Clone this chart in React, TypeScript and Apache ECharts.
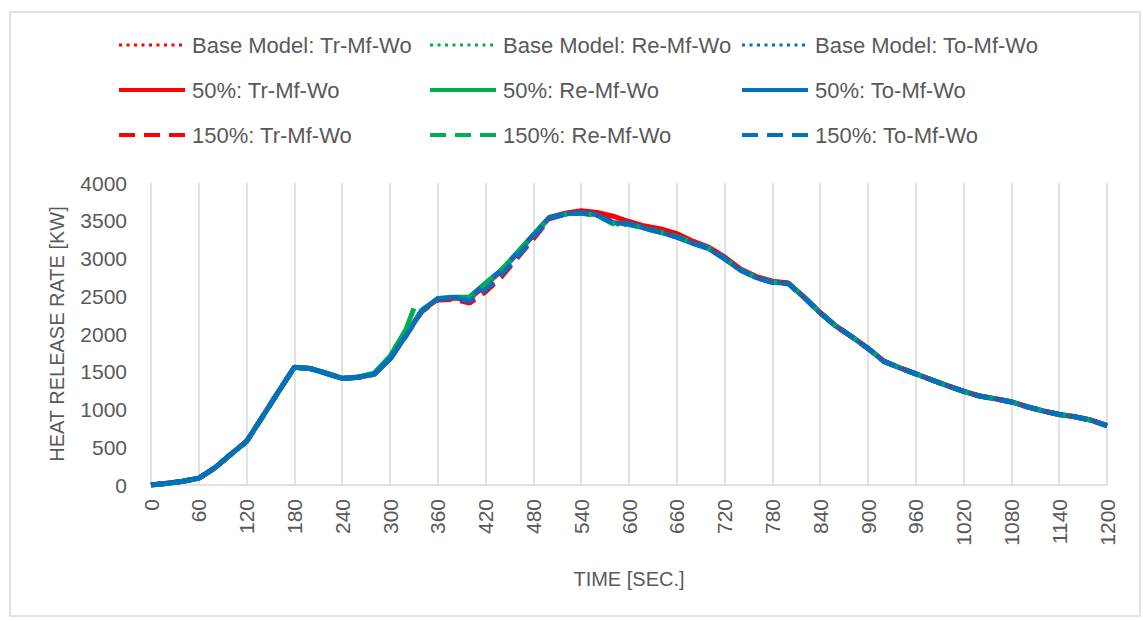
import React, { useEffect, useRef } from "react";
import * as echarts from "echarts";

const times = [0, 20, 40, 60, 80, 100, 120, 140, 160, 180, 200, 220, 240, 260, 280, 300, 320, 340, 360, 380, 400, 420, 440, 460, 480, 500, 520, 540, 560, 580, 600, 620, 640, 660, 680, 700, 720, 740, 760, 780, 800, 820, 840, 860, 880, 900, 920, 940, 960, 980, 1000, 1020, 1040, 1060, 1080, 1100, 1120, 1140, 1160, 1180, 1200];
const timesShort = [0, 20, 40, 60, 80, 100, 120, 140, 160, 180, 200, 220, 240, 260, 280, 300, 320, 330];

const baseTr = [0, 20, 48, 92, 228, 402, 580, 900, 1232, 1558, 1540, 1482, 1415, 1424, 1470, 1675, 1990, 2315, 2460, 2470, 2455, 2640, 2835, 3070, 3310, 3545, 3595, 3615, 3590, 3480, 3470, 3410, 3355, 3290, 3215, 3140, 3005, 2850, 2750, 2690, 2672, 2480, 2278, 2100, 1958, 1810, 1635, 1548, 1470, 1390, 1312, 1238, 1176, 1140, 1098, 1033, 978, 932, 902, 856, 783];
const baseRe = [0, 21, 49, 91, 226, 404, 579, 903, 1236, 1561, 1541, 1478, 1414, 1428, 1480, 1690, 2000, 2330, 2465, 2482, 2480, 2660, 2845, 3075, 3312, 3538, 3585, 3595, 3560, 3450, 3440, 3405, 3352, 3298, 3225, 3150, 3010, 2858, 2752, 2692, 2675, 2485, 2282, 2103, 1962, 1810, 1638, 1551, 1473, 1392, 1314, 1241, 1179, 1142, 1101, 1036, 981, 934, 904, 859, 786];
const baseTo = [0, 22, 51, 90, 224, 406, 577, 906, 1234, 1559, 1542, 1481, 1413, 1425, 1467, 1668, 1978, 2308, 2468, 2486, 2488, 2670, 2852, 3082, 3318, 3542, 3588, 3606, 3578, 3470, 3468, 3402, 3346, 3285, 3205, 3135, 2998, 2848, 2748, 2686, 2669, 2482, 2279, 2101, 1961, 1809, 1638, 1551, 1471, 1392, 1314, 1241, 1177, 1140, 1099, 1034, 981, 934, 904, 857, 786];
const half_Tr = [0, 22, 50, 89, 226, 404, 579, 904, 1236, 1561, 1542, 1481, 1413, 1427, 1468, 1672, 1985, 2312, 2462, 2478, 2470, 2655, 2840, 3070, 3310, 3545, 3600, 3632, 3610, 3560, 3490, 3430, 3392, 3330, 3230, 3150, 3020, 2860, 2760, 2700, 2675, 2488, 2285, 2105, 1963, 1812, 1640, 1553, 1474, 1393, 1315, 1242, 1180, 1143, 1102, 1037, 982, 935, 905, 860, 787];
const half_Re = [0, 21, 49, 91, 226, 404, 579, 904, 1236, 1561, 1542, 1480, 1414, 1430, 1482, 1705, 2060, 2340];
const half_To = [0, 22, 50, 90, 225, 405, 578, 905, 1235, 1560, 1543, 1480, 1412, 1426, 1466, 1670, 1980, 2310, 2470, 2488, 2490, 2672, 2850, 3080, 3315, 3540, 3589, 3608, 3580, 3475, 3465, 3400, 3345, 3283, 3200, 3130, 2994, 2845, 2746, 2685, 2668, 2483, 2280, 2102, 1960, 1808, 1637, 1550, 1472, 1391, 1313, 1240, 1178, 1141, 1100, 1035, 980, 933, 903, 858, 785];
const onehalf_Tr = [0, 22, 50, 90, 225, 404, 578, 904, 1234, 1559, 1541, 1480, 1413, 1425, 1467, 1668, 1978, 2300, 2450, 2460, 2410, 2560, 2760, 3010, 3260, 3525, 3590, 3612, 3585, 3478, 3472, 3408, 3352, 3292, 3210, 3140, 3002, 2852, 2752, 2690, 2672, 2484, 2281, 2102, 1961, 1809, 1638, 1551, 1472, 1392, 1313, 1240, 1178, 1141, 1100, 1035, 980, 933, 903, 858, 785];
const onehalf_Re = [0, 21, 50, 90, 225, 405, 578, 905, 1235, 1560, 1542, 1480, 1413, 1426, 1470, 1675, 1985, 2315, 2468, 2485, 2485, 2668, 2848, 3078, 3314, 3540, 3586, 3600, 3570, 3460, 3450, 3398, 3348, 3290, 3210, 3142, 3000, 2850, 2748, 2688, 2670, 2484, 2281, 2102, 1961, 1809, 1638, 1551, 1472, 1392, 1314, 1241, 1178, 1141, 1100, 1035, 980, 933, 903, 858, 785];
const onehalf_To = [0, 22, 50, 90, 225, 405, 578, 905, 1235, 1560, 1543, 1480, 1412, 1426, 1466, 1668, 1978, 2305, 2465, 2478, 2440, 2590, 2790, 3020, 3285, 3535, 3590, 3605, 3575, 3470, 3462, 3400, 3345, 3283, 3205, 3135, 2998, 2848, 2746, 2685, 2668, 2483, 2280, 2102, 1960, 1808, 1637, 1550, 1472, 1391, 1313, 1240, 1178, 1141, 1100, 1035, 980, 933, 903, 858, 785];

const RED = "#FF0000";
const GREEN = "#00B050";
const BLUE = "#0070C0";
const FONT = "Liberation Sans";
const TXT = "#595959";

const seriesDefs = [
  { name: "Base Model: Tr-Mf-Wo", x: times, y: baseTr, color: RED, kind: "dot" },
  { name: "Base Model: Re-Mf-Wo", x: times, y: baseRe, color: GREEN, kind: "dot" },
  { name: "Base Model: To-Mf-Wo", x: times, y: baseTo, color: BLUE, kind: "dot" },
  { name: "50%: Tr-Mf-Wo", x: times, y: half_Tr, color: RED, kind: "solid" },
  { name: "50%: Re-Mf-Wo", x: timesShort, y: half_Re, color: GREEN, kind: "solid" },
  { name: "50%: To-Mf-Wo", x: times, y: half_To, color: BLUE, kind: "solid" },
  { name: "150%: Tr-Mf-Wo", x: times, y: onehalf_Tr, color: RED, kind: "dash" },
  { name: "150%: Re-Mf-Wo", x: times, y: onehalf_Re, color: GREEN, kind: "dash" },
  { name: "150%: To-Mf-Wo", x: times, y: onehalf_To, color: BLUE, kind: "dash" },
];

function lineStyleFor(kind: string, color: string) {
  if (kind === "dot") return { color, width: 3.5, type: [3, 4.5], cap: "butt" };
  if (kind === "dash") return { color, width: 5, type: [16, 9], cap: "butt" };
  return { color, width: 5, type: "solid" };
}

export default function App() {
  const ref = useRef<HTMLDivElement>(null);
  useEffect(() => {
    if (!ref.current) return;
    const chart = echarts.init(ref.current, undefined, { renderer: "svg" });
    const legendCols = [0, 1, 2].map((c) => ({
      orient: "vertical",
      left: [112, 423, 735][c],
      top: 29,
      itemWidth: 66,
      itemHeight: 14,
      itemGap: 23,
      itemStyle: { opacity: 0 },
      textStyle: { color: TXT, fontFamily: FONT, fontSize: 22, lineHeight: 22, padding: [0, 0, 0, 2] },
      data: [0, 3, 6].map((r) => {
        const d = seriesDefs[r + c];
        return { name: d.name, itemStyle: { opacity: 0 }, lineStyle: { width: d.kind === "dot" ? 3 : 4 } };
      }),
    }));
    chart.setOption({
      animation: false,
      backgroundColor: "#ffffff",
      graphic: [
        {
          type: "rect",
          shape: { x: 10, y: 12, width: 1130, height: 604 },
          style: { fill: "none", stroke: "#d9d9d9", lineWidth: 1.5 },
          silent: true,
        },
      ],
      legend: legendCols,
      grid: { left: 151, right: 36, top: 183, bottom: 136, containLabel: false },
      xAxis: {
        type: "value",
        min: 0,
        max: 1200,
        interval: 60,
        name: "TIME [SEC.]",
        nameLocation: "middle",
        nameGap: 84,
        nameTextStyle: { color: TXT, fontFamily: FONT, fontSize: 20 },
        axisLine: { show: true, lineStyle: { color: "#d9d9d9", width: 1.5 } },
        axisTick: { show: false },
        axisLabel: { rotate: 90, color: TXT, fontFamily: FONT, fontSize: 21, margin: 14, formatter: (v: number) => String(v) },
        splitLine: { show: true, lineStyle: { color: "#d9d9d9", width: 1.5 } },
      },
      yAxis: {
        type: "value",
        min: 0,
        max: 4000,
        interval: 500,
        name: "HEAT RELEASE RATE [KW]",
        nameLocation: "middle",
        nameGap: 84,
        nameTextStyle: { color: TXT, fontFamily: FONT, fontSize: 20 },
        axisLine: { show: false },
        axisTick: { show: false },
        axisLabel: { color: TXT, fontFamily: FONT, fontSize: 21, margin: 24, formatter: (v: number) => String(v) },
        splitLine: { show: false },
      },
      series: seriesDefs.map((d) => ({
        name: d.name,
        type: "line",
        symbol: "none",
        showSymbol: false,
        color: d.color,
        lineStyle: lineStyleFor(d.kind, d.color),
        data: d.x.map((t, i) => [t, d.y[i]]),
      })),
    });
    return () => chart.dispose();
  }, []);
  return <div ref={ref} style={{ position: "fixed", left: 0, top: 0, width: 1143, height: 621 }} />;
}
